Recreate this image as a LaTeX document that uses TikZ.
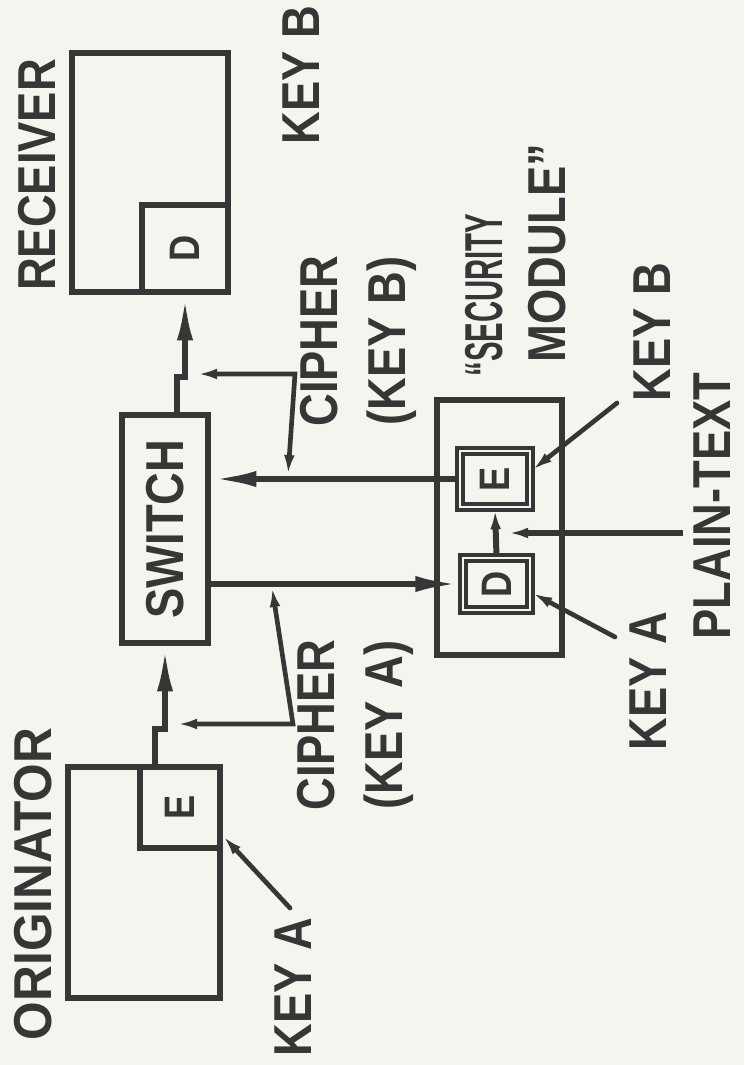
\documentclass[tikz,border=0pt]{standalone}
\usepackage{fontspec}
\setmainfont{Liberation Sans}[FakeStretch=0.85]
\newfontfamily\narrowfont{Liberation Sans}[FakeStretch=0.55]
\newfontfamily\broadfont{Liberation Sans}[FakeStretch=0.93]
\usetikzlibrary{arrows.meta,calc,fit}

\definecolor{ink}{HTML}{363636}
\definecolor{paper}{HTML}{F5F5EF}

\tikzset{
  bigtip/.tip={Latex[length=34pt,width=12pt]},
  smalltip/.tip={Latex[length=15pt,width=8pt]},
  unit/.style={draw=ink, line width=4.5pt, inner sep=0pt},
  cell/.style={draw=ink, line width=3.5pt, double=paper, double distance=1pt, inner sep=0pt},
  lbl/.style={rotate=90, inner sep=0pt, text=ink, align=center,
    font=\fontsize{40}{51}\selectfont\bfseries},
  ltr/.style={rotate=90, inner sep=0pt, text=ink,
    font=\fontsize{32}{32}\selectfont\bfseries},
  wire/.style={draw=ink, line width=4.5pt},
  tap/.style={draw=ink, line width=3.5pt, line cap=round}
}

\begin{document}
\begin{tikzpicture}[x=0.75pt,y=-0.75pt]
\fill[paper] (0,0) rectangle (744,1065);
\useasboundingbox (0,0) rectangle (744,1065);

% boxes
\node[unit, fit={(68,767)(220,998)}] (orig) {};
\node[unit, fit={(140,767)(220,848)}] (eo) {};
\node[unit, fit={(72,53)(228,292)}] (recv) {};
\node[unit, fit={(142,205)(228,292)}] (dr) {};
\node[unit, fit={(122,415)(208,643)}] (sw) {};
\node[unit, fit={(437,400)(562,655)}] (mod) {};
\node[cell, fit={(460,451)(530,507)}] (em) {};
\node[cell, fit={(463,558)(530,610)}] (dm) {};

\node[ltr] (eoT) at (eo) {E};
\node[ltr] (drT) at (dr) {D};
\node[ltr] (emT) at (em) {E};
\node[ltr] (dmT) at (dm) {D};
\node[lbl] (swT) at (sw) {SWITCH};

% labels
\node[lbl] (origT) at (33,884) {\broadfont ORIGINATOR};
\node[lbl] (recvT) at (37,175) {RECEIVER};
\node[lbl] (keyAo) at (293,987) {KEY A};
\node[lbl] (keyBr) at (301,75) {KEY B};
\node[lbl] (ciphB) at (358,341) {CIPHER\\(KEY B)};
\node[lbl] (ciphA) at (355,725) {CIPHER\\(KEY A)};
\node[lbl] (secA) at (484,295) {\narrowfont “SECURITY};
\node[lbl] (secB) at (547,253) {MODULE”};
\node[lbl] (keyBm) at (652,332) {KEY B};
\node[lbl] (keyAm) at (648,681) {KEY A};
\node[lbl] (plain) at (712,506) {PLAIN-TEXT};

% main lines
\draw[wire,-bigtip] ($(eo.north west)+(18,0)$) |- ($(sw.south)+(0,83)$) -- (sw.south);
\draw[wire,-bigtip] ($(sw.north)+(12,0)$) |- ($(dr.south)+(0,82)$) -- (dr.south);
\draw[wire,-bigtip] (em.west) -- (em.west -| sw.east);
\draw[wire,-bigtip] (sw.east |- dm.west) -- (dm.west);
\draw[wire,-smalltip] (dm.north) -- (em.south);

% cipher taps
\coordinate (tA1) at (177,724);
\coordinate (tAc) at (293,724);
\coordinate (tA2) at (272,587);
\draw[tap,smalltip-smalltip] (tA1) -- (tAc) -- (tA2);
\coordinate (tB1) at (197,374);
\coordinate (tBc) at (295,374);
\coordinate (tB2) at (288,475);
\draw[tap,smalltip-smalltip] (tB1) -- (tBc) -- (tB2);

% keys and plain text
\coordinate (ptx) at (683,533);
\coordinate (pty) at (508,533);
\draw[wire,-smalltip] (ptx) -- (pty);
\coordinate (kAo) at (290,908);
\draw[tap,-smalltip] (kAo) -- ($(eo.south east)+(0,-15)$);
\coordinate (kBm) at (617,403);
\draw[tap,-smalltip] (kBm) -- ($(em.east)+(0,-9)$);
\coordinate (kAm) at (615,637);
\draw[tap,-smalltip] (kAm) -- ($(dm.east)+(0,9)$);
\end{tikzpicture}
\end{document}
